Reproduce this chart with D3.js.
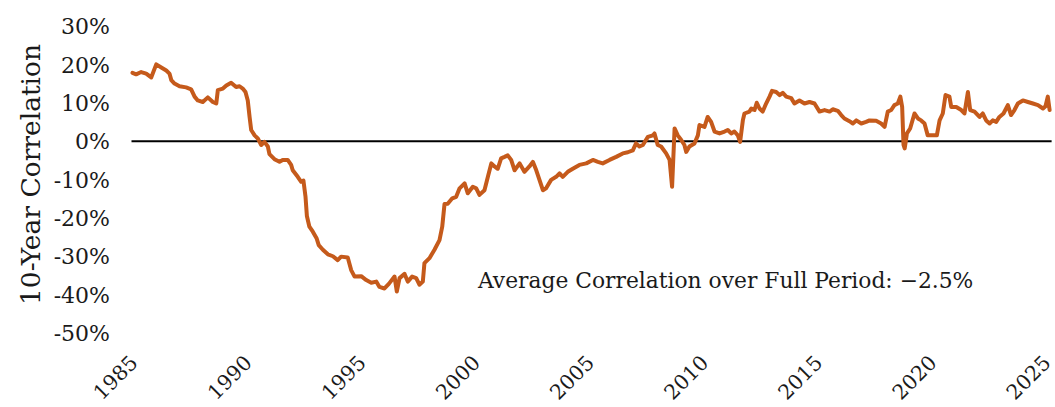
<!DOCTYPE html>
<html>
<head>
<meta charset="utf-8">
<script src="https://cdn.jsdelivr.net/npm/d3@7"></script>
<style>
  html, body { margin: 0; padding: 0; background: #fff; }
  svg { display: block; }
  text { font-family: "DejaVu Serif", "Liberation Serif", serif; fill: #1a1a1a; }
</style>
</head>
<body>
<svg id="chart" width="1055" height="407"></svg>
<script>
// ---- Data (decimal year, 10-year rolling correlation in %) ----
const years = [
  1985.00,1985.16,1985.38,1985.60,1985.82,1986.04,1986.26,1986.48,1986.62,1986.70,
  1986.84,1987.06,1987.35,1987.57,1987.72,1987.86,1988.08,1988.30,1988.52,1988.67,
  1988.74,1988.96,1989.11,1989.32,1989.54,1989.69,1989.83,1989.95,1990.05,1990.13,
  1990.20,1990.35,1990.49,1990.64,1990.78,1990.93,1991.00,1991.22,1991.44,1991.58,
  1991.80,1991.95,1992.02,1992.24,1992.39,1992.49,1992.58,1992.64,1992.75,1992.90,
  1993.07,1993.16,1993.34,1993.56,1993.78,1993.99,1994.14,1994.43,1994.58,1994.73,
  1995.02,1995.24,1995.46,1995.68,1995.82,1996.04,1996.23,1996.48,1996.58,1996.70,
  1996.92,1997.06,1997.25,1997.43,1997.57,1997.72,1997.79,1998.01,1998.23,1998.45,
  1998.57,1998.67,1998.81,1999.01,1999.18,1999.33,1999.55,1999.69,1999.91,2000.06,
  2000.20,2000.42,2000.57,2000.72,2000.86,2001.00,2001.15,2001.30,2001.44,2001.59,
  2001.74,2001.96,2002.17,2002.39,2002.54,2002.69,2002.83,2002.98,2003.12,2003.34,
  2003.56,2003.71,2003.85,2004.07,2004.29,2004.58,2004.88,2005.17,2005.39,2005.60,
  2005.90,2006.19,2006.48,2006.70,2006.92,2007.06,2007.21,2007.36,2007.58,2007.80,
  2007.87,2008.01,2008.16,2008.38,2008.53,2008.64,2008.75,2008.89,2009.04,2009.18,
  2009.26,2009.40,2009.62,2009.77,2009.84,2010.06,2010.20,2010.35,2010.50,2010.72,
  2010.94,2011.08,2011.23,2011.37,2011.52,2011.62,2011.74,2011.81,2012.03,2012.11,
  2012.25,2012.35,2012.47,2012.61,2012.76,2012.91,2013.02,2013.20,2013.35,2013.49,
  2013.64,2013.86,2014.00,2014.22,2014.44,2014.66,2014.88,2015.10,2015.32,2015.54,
  2015.68,2015.90,2016.05,2016.19,2016.41,2016.56,2016.71,2016.93,2017.14,2017.29,
  2017.58,2017.80,2017.95,2018.09,2018.24,2018.38,2018.53,2018.64,2018.72,2018.78,
  2018.83,2018.93,2019.07,2019.26,2019.41,2019.55,2019.70,2019.84,2020.06,2020.24,
  2020.36,2020.50,2020.62,2020.79,2020.87,2021.09,2021.31,2021.45,2021.60,2021.70,
  2021.89,2022.11,2022.25,2022.40,2022.55,2022.69,2022.84,2022.98,2023.16,2023.35,
  2023.49,2023.64,2023.79,2024.01,2024.23,2024.45,2024.67,2024.89,2025.00,2025.10,
  2025.18
];
const correlation = [
  17.8,17.4,18.0,17.6,16.6,20.0,19.2,18.4,17.6,15.9,
  15.0,14.3,14.0,13.5,11.6,10.6,10.2,11.4,10.2,9.8,
  13.3,13.7,14.5,15.2,14.1,14.3,13.7,12.8,10.6,6.3,
  2.9,1.5,0.7,-1.0,-0.2,-1.4,-3.4,-4.7,-5.4,-4.9,
  -4.9,-6.2,-7.6,-9.3,-10.6,-10.3,-14.5,-19.5,-22.3,-23.6,
  -25.4,-27.1,-28.3,-29.5,-30.0,-31.0,-30.1,-30.3,-33.6,-35.3,
  -35.2,-36.2,-36.9,-36.6,-38.0,-38.4,-37.2,-35.3,-39.2,-35.7,
  -34.6,-36.6,-35.3,-35.7,-37.4,-36.6,-31.8,-30.5,-28.3,-25.8,
  -22.3,-16.4,-16.3,-14.9,-14.5,-12.3,-11.0,-13.6,-11.9,-12.3,
  -14.0,-12.8,-9.3,-5.8,-6.6,-7.2,-4.5,-4.1,-3.7,-4.9,
  -7.6,-5.8,-8.0,-6.6,-5.4,-7.6,-10.1,-12.8,-12.3,-10.1,
  -9.3,-8.4,-9.3,-8.0,-7.2,-6.2,-5.8,-4.9,-5.4,-5.8,
  -4.9,-4.1,-3.2,-2.9,-2.4,-0.6,-1.4,-1.0,1.1,1.5,
  2.0,-1.0,-1.4,-3.2,-4.9,-11.9,3.3,1.5,0.3,-1.0,
  -2.8,-1.4,-0.6,1.5,4.2,3.7,6.3,5.0,2.5,2.0,
  2.5,2.9,2.0,2.5,1.5,-0.2,5.4,7.2,7.7,8.5,
  8.1,10.0,8.5,7.7,9.8,11.6,13.1,12.8,12.0,12.6,
  11.6,11.2,9.8,10.6,9.8,10.2,9.8,7.7,8.1,7.7,
  8.3,7.9,6.8,5.9,5.2,4.6,5.4,4.6,5.0,5.4,
  5.3,4.6,3.7,7.7,8.1,9.4,9.8,11.6,8.9,-1.0,
  -1.9,2.0,3.3,7.2,5.9,5.4,4.6,1.5,1.5,1.5,
  5.4,7.2,12.0,11.6,8.9,8.9,8.1,7.2,12.8,8.1,
  7.7,6.3,7.2,5.4,4.6,5.4,5.0,6.3,7.2,9.4,
  6.8,8.1,9.8,10.6,10.2,9.8,9.4,8.5,9.1,11.6,
  8.1
];
const xTickLabels = ["1985","1990","1995","2000","2005","2010","2015","2020","2025"];
const yTickValues = [30, 20, 10, 0, -10, -20, -30, -40, -50];
const yTitle = "10-Year Correlation";
const annotation = "Average Correlation over Full Period: \u22122.5%";

// ---- Chart ----
const svg = d3.select("#chart");
const x = d3.scaleLinear().domain([1985, 2025]).range([132.5, 1045.5]);
const y = d3.scaleLinear().domain([-50, 30]).range([333, 26]);

// y tick labels
const yAxis = d3.axisLeft(y).tickValues(yTickValues).tickSize(0).tickPadding(0)
  .tickFormat(d => d + "%");
svg.append("g").attr("transform", "translate(110,0)").call(yAxis)
  .call(g => g.select(".domain").remove())
  .call(g => g.selectAll("text")
    .style("font-family", '"DejaVu Serif", serif')
    .style("font-size", "22px").attr("fill", "#1a1a1a").attr("dy", "0.35em"));

// x tick labels (rotated)
const xAxis = d3.axisBottom(x).tickValues(xTickLabels.map(Number)).tickSize(0)
  .tickFormat((d, i) => xTickLabels[i]);
svg.append("g").call(xAxis)
  .call(g => g.select(".domain").remove())
  .call(g => g.selectAll(".tick text")
    .attr("y", 0).attr("dy", 0)
    .attr("text-anchor", "end")
    .attr("transform", "translate(6,364) rotate(-45)")
    .style("font-family", '"DejaVu Serif", serif')
    .style("font-size", "20.5px").attr("fill", "#1a1a1a"));

// y title
svg.append("text")
  .attr("transform", `translate(40,${(y(30)+y(-50))/2 - 5}) rotate(-90)`)
  .attr("text-anchor", "middle")
  .style("font-size", "26.5px")
  .text(yTitle);

// zero line
svg.append("line")
  .attr("x1", x(1985) - 1).attr("x2", x(years[years.length-1]) + 2)
  .attr("y1", y(0)).attr("y2", y(0))
  .attr("stroke", "#000").attr("stroke-width", 2);

// series line
const data = years.map((yr, i) => ({ yr, v: correlation[i] }));
svg.append("path").datum(data)
  .attr("fill", "none")
  .attr("stroke", "#c55a1b")
  .attr("stroke-width", 4)
  .attr("stroke-linejoin", "round")
  .attr("stroke-linecap", "round")
  .attr("d", d3.line().x(d => x(d.yr)).y(d => y(d.v)));

// annotation
svg.append("text")
  .attr("x", 478).attr("y", 288)
  .style("font-size", "21.8px")
  .text(annotation);
</script>
</body>
</html>
